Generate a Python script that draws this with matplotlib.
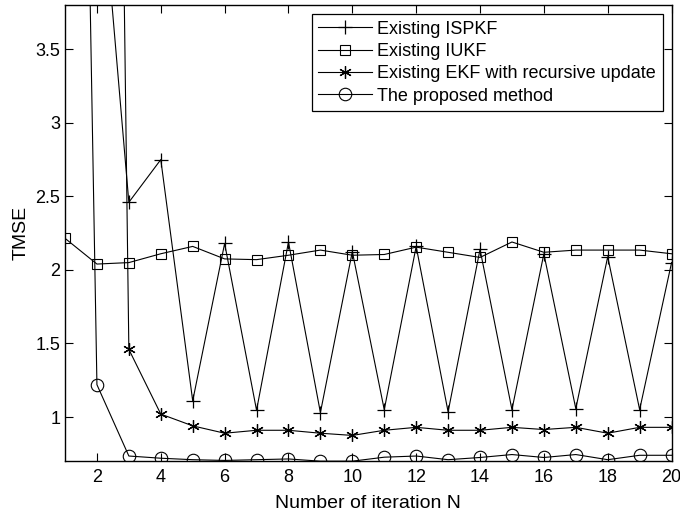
import numpy as np
from matplotlib import pyplot as plt

plt.rcParams['font.family'] = ['Liberation Sans', 'DejaVu Sans']

iters = list(range(1, 21))

ispkf = [9.0, 5.0, 2.46, 2.75, 1.11, 2.18, 1.046, 2.19, 1.03, 2.125, 1.05, 2.16, 1.035, 2.14, 1.05, 2.11, 1.057, 2.09, 1.05, 2.05]
iukf = [2.215, 2.04, 2.05, 2.11, 2.16, 2.075, 2.07, 2.10, 2.135, 2.10, 2.105, 2.155, 2.12, 2.085, 2.19, 2.12, 2.135, 2.135, 2.135, 2.11]
ekf = [20.0, 18.0, 1.46, 1.02, 0.94, 0.89, 0.91, 0.91, 0.89, 0.875, 0.91, 0.93, 0.91, 0.91, 0.93, 0.915, 0.93, 0.89, 0.93, 0.93]
proposed = [13.5, 1.22, 0.735, 0.72, 0.71, 0.705, 0.71, 0.715, 0.70, 0.70, 0.727, 0.735, 0.71, 0.725, 0.745, 0.725, 0.745, 0.71, 0.74, 0.74]

labels = ['Existing ISPKF', 'Existing IUKF', 'Existing EKF with recursive update', 'The proposed method']

fig = plt.figure(figsize=(6.8, 5.17), dpi=100)
ax = fig.add_axes([0.0956, 0.108, 0.892, 0.882])

lw = 0.8
ax.plot(iters, ispkf, color='k', lw=lw, marker='+', ms=10, mew=0.9, label=labels[0])
ax.plot(iters, iukf, color='k', lw=lw, marker='s', ms=7.5, mfc='none', mew=0.8, label=labels[1])
ax.plot(iters, ekf, color='k', lw=lw, marker=(6, 2, 0), ms=9, mew=0.9, label=labels[2])
ax.plot(iters, proposed, color='k', lw=lw, marker='o', ms=9, mfc='none', mew=0.8, label=labels[3])

ax.set_xlim(1, 20)
ax.set_ylim(0.7, 3.8)
ax.set_xticks(range(2, 21, 2))
ax.set_yticks([1, 1.5, 2, 2.5, 3, 3.5])
ax.set_yticklabels(['1', '1.5', '2', '2.5', '3', '3.5'])
ax.tick_params(direction='in', top=True, right=True, labelsize=13, length=6, width=0.8)
ax.tick_params(axis='x', pad=6)
for s in ax.spines.values():
    s.set_linewidth(1.0)

ax.set_xlabel('Number of iteration N', fontsize=14, labelpad=6)
ax.set_ylabel('TMSE', fontsize=14)

leg = ax.legend(loc='upper right', fontsize=13, fancybox=False, edgecolor='k',
                framealpha=1, handlelength=3.0, labelspacing=0.3,
                borderaxespad=0.5, borderpad=0.35, handletextpad=0.3)
leg.get_frame().set_linewidth(0.9)

plt.savefig('out.png', dpi=100)
